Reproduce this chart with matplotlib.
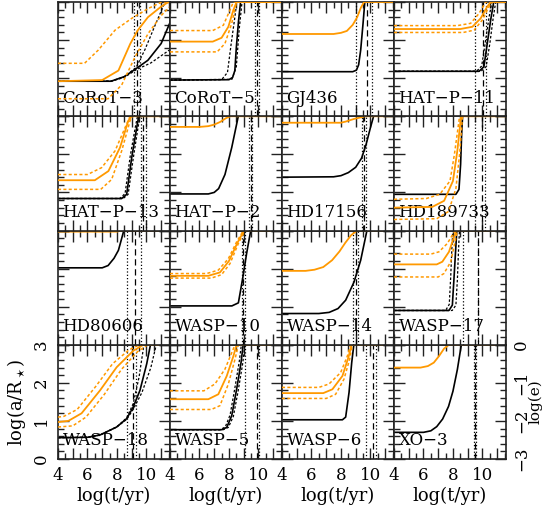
import matplotlib
matplotlib.use('Agg')
import matplotlib.pyplot as plt
from matplotlib.ticker import MultipleLocator, FuncFormatter

plt.rcParams['font.family'] = ['DejaVu Serif']
plt.rcParams['mathtext.fontset'] = 'dejavuserif'

orange = '#ff9900'

# each panel: ages (lower, best, upper) in log(t/yr),
# a-curves: first solid, rest dotted, log(a/R*) ; e-curves: first solid, rest dotted, log(e)
corot3_age = [9.16, 9.36, 9.56]
corot3_a = [([4, 7.6, 8.5, 9.3, 10.1, 11.0, 11.6], [0.92, 0.92, 1.04, 1.25, 1.47, 1.91, 2.46]),
            ([4, 7.6, 8.5, 9.3, 9.9, 10.6, 11.1, 11.4], [0.92, 0.92, 1.04, 1.28, 1.75, 2.4, 2.85, 3.1]),
            ([4, 7.6, 8.5, 9.3, 10.3, 11.6], [0.92, 0.92, 1.02, 1.22, 1.4, 1.75])]
corot3_e = [([4, 7.0, 8.1, 8.9, 9.4, 10.1, 11.0, 11.5, 11.6], [-2.08, -2.05, -1.8, -1.1, -0.75, -0.4, -0.12, 0, 0]),
            ([4, 5.8, 6.74, 7.87, 9.0, 10.13, 11.04, 11.6], [-1.61, -1.61, -1.26, -0.74, -0.43, -0.17, 0, 0]),
            ([4, 7.4, 8.32, 9.23, 10.13, 11.04, 11.6], [-2.54, -2.54, -2.18, -1.44, -0.82, -0.34, -0.12])]

corot5_age = [9.77, 9.9, 10.04]
corot5_a = [([4, 8.0, 8.25, 8.4, 8.5, 8.65, 8.8], [0.95, 0.96, 1.02, 1.2, 1.8, 2.5, 3.05]),
            ([4, 7.5, 7.9, 8.15, 8.4, 8.55], [0.95, 0.96, 1.15, 1.9, 2.6, 3.05]),
            ([4, 8.2, 8.5, 8.7, 8.9], [0.95, 0.97, 1.3, 2.3, 3.05])]
corot5_e = [([4, 6.9, 7.5, 7.96, 8.3, 8.52, 11.6], [-1.04, -1.04, -0.94, -0.65, -0.21, 0, 0]),
            ([4, 6.9, 7.62, 8.07, 8.3, 11.6], [-0.75, -0.75, -0.61, -0.21, 0, 0]),
            ([4, 7.2, 7.73, 8.19, 8.52, 11.6], [-1.31, -1.31, -1.09, -0.56, 0, 0])]

gj436_age = [9.04, 9.78, 10.12]
gj436_a = [([4, 8.8, 9.05, 9.2, 9.34, 9.5, 9.63], [1.17, 1.17, 1.21, 1.35, 1.74, 2.44, 3.05])]
gj436_e = [([4, 7.5, 8.0, 8.4, 8.8, 9.1, 9.35, 9.57, 11.6], [-0.84, -0.84, -0.81, -0.76, -0.6, -0.4, -0.15, 0, 0])]

hatp11_age = [9.48, 10.05, 10.25]
hatp11_a = [([4, 9.77, 10.1, 10.33, 10.56, 10.79], [1.18, 1.18, 1.3, 1.91, 2.53, 3.05]),
            ([4, 9.6, 9.95, 10.2, 10.45, 10.67], [1.18, 1.18, 1.32, 1.95, 2.6, 3.05]),
            ([4, 9.9, 10.25, 10.5, 10.72, 10.92], [1.18, 1.18, 1.3, 1.9, 2.55, 3.05])]
hatp11_e = [([4, 8.5, 9.32, 9.88, 10.33, 10.56, 11.6], [-0.71, -0.71, -0.65, -0.43, -0.12, 0, 0]),
            ([4, 8.3, 9.2, 9.77, 10.22, 11.6], [-0.62, -0.62, -0.56, -0.3, 0, 0]),
            ([4, 8.7, 9.43, 10.0, 10.45, 10.67, 11.6], [-0.8, -0.8, -0.74, -0.47, -0.12, 0, 0])]

hatp13_age = [9.63, 9.79, 9.95]
hatp13_a = [([4, 8.32, 8.66, 9.0, 9.34, 9.5], [0.84, 0.84, 0.95, 1.91, 2.7, 3.05]),
            ([4, 8.2, 8.55, 8.9, 9.25, 9.42], [0.84, 0.84, 0.97, 1.95, 2.72, 3.05]),
            ([4, 8.42, 8.76, 9.1, 9.42, 9.58], [0.84, 0.84, 0.95, 1.88, 2.68, 3.05])]
hatp13_e = [([4, 6.5, 7.42, 8.21, 8.77, 9.0, 11.6], [-1.68, -1.68, -1.44, -0.82, -0.12, 0, 0]),
            ([4, 6.0, 6.96, 7.87, 8.55, 8.89, 11.6], [-1.53, -1.53, -1.35, -0.91, -0.3, 0, 0]),
            ([4, 6.9, 7.64, 8.32, 8.89, 9.05, 11.6], [-1.92, -1.92, -1.66, -0.91, -0.12, 0, 0])]

hatp2_age = [9.38, 9.47, 9.56]
hatp2_a = [([4, 6.6, 7.0, 7.3, 7.73, 8.19, 8.52, 8.66], [0.96, 0.96, 1.0, 1.1, 1.47, 2.18, 2.79, 3.05])]
hatp2_e = [([4, 6.0, 6.6, 7.0, 7.4, 7.8, 8.1, 11.6], [-0.28, -0.28, -0.26, -0.22, -0.15, -0.05, 0, 0])]

hd17156_age = [9.41, 9.59, 9.72]
hd17156_a = [([4, 7.5, 8.0, 8.5, 9.0, 9.4, 9.7, 10.0, 10.25], [1.4, 1.41, 1.44, 1.52, 1.66, 1.9, 2.25, 2.7, 3.05])]
hd17156_e = [([4, 8.0, 8.32, 8.89, 9.45, 9.63, 11.6], [-0.17, -0.17, -0.14, -0.07, -0.02, 0, 0])]

hd189733_age = [9.5, 10.0, 10.2]
hd189733_a = [([4, 8.2, 8.41, 8.52, 8.59, 8.66], [0.95, 0.95, 1.08, 1.74, 2.53, 3.05])]
hd189733_e = [([4, 6.6, 7.4, 8.0, 8.3, 8.55, 11.6], [-2.4, -2.38, -2.22, -1.7, -0.9, 0, 0]),
              ([4, 6.2, 7.1, 7.8, 8.1, 8.45, 11.6], [-2.18, -2.16, -2.05, -1.7, -1.0, 0, 0]),
              ([4, 6.9, 7.7, 8.2, 8.45, 8.65, 11.6], [-2.71, -2.69, -2.5, -1.9, -1.0, 0, 0])]

hd80606_age = [8.66, 9.22, 9.63]
hd80606_a = [([4, 7.0, 7.4, 7.8, 8.1, 8.32, 8.5], [2.02, 2.02, 2.08, 2.27, 2.48, 2.79, 3.05])]
hd80606_e = [([4, 8.0, 8.3, 11.6], [-0.03, -0.03, 0, 0])]

wasp10_age = [8.86, 8.97, 9.09]
wasp10_a = [([4, 8.2, 8.64, 8.93, 9.2, 9.5], [1.02, 1.02, 1.1, 1.74, 2.4, 3.05])]
wasp10_e = [([4, 6.6, 7.39, 8.0, 8.58, 9.03, 11.6], [-1.19, -1.19, -1.1, -0.8, -0.32, 0, 0]),
            ([4, 6.49, 7.28, 7.96, 8.52, 8.98, 11.6], [-1.13, -1.13, -1.04, -0.74, -0.3, 0, 0]),
            ([4, 6.8, 7.5, 8.07, 8.64, 9.09, 11.6], [-1.25, -1.25, -1.16, -0.87, -0.34, 0, 0])]

wasp14_age = [8.82, 9.0, 9.14]
wasp14_a = [([4, 6.5, 7.2, 7.8, 8.32, 8.89, 9.34, 9.79], [0.82, 0.82, 0.85, 0.95, 1.17, 1.65, 2.22, 3.05])]
wasp14_e = [([4, 5.6, 6.2, 6.8, 7.4, 7.9, 8.3, 8.7, 9.1, 11.6],
             [-1.06, -1.06, -1.03, -0.96, -0.78, -0.55, -0.32, -0.12, 0, 0])]

wasp17_age = [8.7, 9.7, 9.72]
wasp17_a = [([4, 7.73, 7.96, 8.07, 8.19, 8.27], [0.9, 0.9, 1.04, 1.74, 2.53, 3.05]),
            ([4, 7.5, 7.75, 7.85, 7.93, 8.0], [0.9, 0.9, 1.06, 1.8, 2.55, 3.05]),
            ([4, 7.95, 8.2, 8.3, 8.38, 8.45], [0.9, 0.9, 1.04, 1.7, 2.5, 3.05])]
wasp17_e = [([4, 6.9, 7.28, 7.73, 8.07, 8.23, 11.6], [-0.89, -0.89, -0.82, -0.56, -0.17, 0, 0]),
            ([4, 6.5, 7.05, 7.62, 7.96, 8.14, 11.6], [-0.62, -0.62, -0.56, -0.34, -0.12, 0, 0]),
            ([4, 7.0, 7.39, 7.85, 8.14, 8.3, 11.6], [-1.22, -1.22, -1.13, -0.82, -0.3, 0, 0])]

wasp18_age = [8.7, 9.1, 9.3]
wasp18_a = [([4, 6.0, 6.85, 7.98, 8.66, 9.1, 9.56, 10.02, 10.3], [0.56, 0.57, 0.63, 0.84, 1.06, 1.36, 1.8, 2.5, 3.05]),
            ([4, 6.0, 6.85, 7.98, 8.66, 9.1, 9.5, 9.85], [0.56, 0.57, 0.63, 0.84, 1.08, 1.45, 2.15, 3.05]),
            ([4, 6.0, 6.85, 7.98, 8.66, 9.1, 9.7, 10.3, 10.7], [0.56, 0.57, 0.63, 0.84, 1.04, 1.3, 1.75, 2.4, 3.05])]
wasp18_e = [([4, 4.7, 5.6, 6.85, 7.98, 9.1, 9.8, 11.6], [-2.03, -2.0, -1.8, -1.2, -0.59, -0.16, 0, 0]),
            ([4, 4.4, 5.3, 6.55, 7.7, 8.8, 9.5, 11.6], [-1.9, -1.88, -1.7, -1.1, -0.5, -0.14, 0, 0]),
            ([4, 5.0, 5.9, 7.15, 8.3, 9.4, 10.1, 11.6], [-2.16, -2.13, -1.9, -1.3, -0.65, -0.18, 0, 0])]

wasp5_age = [9.07, 9.9, 10.05]
wasp5_a = [([4, 7.51, 7.85, 8.19, 8.52, 8.82, 8.98], [0.77, 0.77, 0.83, 1.14, 1.83, 2.53, 3.05]),
           ([4, 7.4, 7.75, 8.08, 8.4, 8.7, 8.86], [0.77, 0.77, 0.84, 1.16, 1.86, 2.56, 3.05]),
           ([4, 7.62, 7.96, 8.3, 8.63, 8.93, 9.1], [0.77, 0.77, 0.83, 1.12, 1.8, 2.5, 3.05])]
wasp5_e = [([4, 6.6, 7.28, 7.85, 8.3, 8.52, 11.6], [-1.43, -1.43, -1.3, -0.82, -0.3, 0, 0]),
           ([4, 6.3, 7.05, 7.73, 8.19, 8.41, 11.6], [-1.21, -1.21, -1.03, -0.64, -0.21, 0, 0]),
           ([4, 6.8, 7.39, 7.96, 8.41, 8.64, 11.6], [-1.7, -1.7, -1.6, -1.03, -0.38, 0, 0])]

wasp6_age = [9.7, 10.2, 10.38]
wasp6_a = [([4, 8.1, 8.32, 8.55, 8.73, 8.89], [1.03, 1.03, 1.1, 1.75, 2.53, 3.05])]
wasp6_e = [([4, 6.8, 7.42, 8.1, 8.5, 8.73, 11.6], [-1.27, -1.27, -1.17, -0.82, -0.34, 0, 0]),
           ([4, 6.5, 7.19, 7.98, 8.43, 8.66, 11.6], [-1.12, -1.12, -1.03, -0.73, -0.3, 0, 0]),
           ([4, 7.0, 7.64, 8.21, 8.59, 8.77, 11.6], [-1.41, -1.41, -1.3, -0.9, -0.38, 0, 0])]

xo3_age = [9.45, 9.5, 9.55]
xo3_a = [([4, 6.0, 6.5, 6.9, 7.3, 7.7, 8.0, 8.3, 8.59], [0.7, 0.7, 0.74, 0.85, 1.05, 1.38, 1.78, 2.35, 3.05])]
xo3_e = [([4, 5.8, 6.3, 6.7, 7.05, 7.4, 7.73, 11.6], [-0.6, -0.6, -0.56, -0.47, -0.3, -0.1, 0, 0])]

panels = [
    ('CoRoT−3', corot3_age, corot3_a, corot3_e),
    ('CoRoT−5', corot5_age, corot5_a, corot5_e),
    ('GJ436', gj436_age, gj436_a, gj436_e),
    ('HAT−P−11', hatp11_age, hatp11_a, hatp11_e),
    ('HAT−P−13', hatp13_age, hatp13_a, hatp13_e),
    ('HAT−P−2', hatp2_age, hatp2_a, hatp2_e),
    ('HD17156', hd17156_age, hd17156_a, hd17156_e),
    ('HD189733', hd189733_age, hd189733_a, hd189733_e),
    ('HD80606', hd80606_age, hd80606_a, hd80606_e),
    ('WASP−10', wasp10_age, wasp10_a, wasp10_e),
    ('WASP−14', wasp14_age, wasp14_a, wasp14_e),
    ('WASP−17', wasp17_age, wasp17_a, wasp17_e),
    ('WASP−18', wasp18_age, wasp18_a, wasp18_e),
    ('WASP−5', wasp5_age, wasp5_a, wasp5_e),
    ('WASP−6', wasp6_age, wasp6_a, wasp6_e),
    ('XO−3', xo3_age, xo3_a, xo3_e),
]

fig = plt.figure(figsize=(5.44, 5.14), dpi=100)
left, top = 58 / 544, 1 - 2 / 514
w, h = 112 / 544, 114.25 / 514

even_fmt = FuncFormatter(lambda v, p: '%d' % round(v) if round(v) % 2 == 0 else '')

for k, (name, age, a_curves, e_curves) in enumerate(panels):
    row, col = divmod(k, 4)
    ax = fig.add_axes([left + col * w, top - (row + 1) * h, w, h])
    tw = ax.twinx()
    ax.set_zorder(10 - 2 * row)
    tw.set_zorder(10 - 2 * row)

    ax.axvline(age[0], color='black', linestyle=':', linewidth=0.9)
    ax.axvline(age[1], color='black', linestyle=(0, (5, 3)), linewidth=0.9)
    ax.axvline(age[2], color='black', linestyle=':', linewidth=0.9)

    for i, (t, a) in enumerate(a_curves):
        if i == 0:
            ax.plot(t, a, color='black', linewidth=1.2)
        else:
            ax.plot(t, a, color='black', linestyle=(0, (2, 1.5)), linewidth=0.9)
    for i, (t, e) in enumerate(e_curves):
        if i == 0:
            tw.plot(t, e, color=orange, linewidth=1.3)
        else:
            tw.plot(t, e, color=orange, linestyle=(0, (2, 1.5)), linewidth=1.1)

    ax.set_xlim(4, 11.6)
    ax.set_ylim(0, 3)
    tw.set_ylim(-3, 0)

    ax.xaxis.set_major_locator(MultipleLocator(1))
    ax.xaxis.set_minor_locator(MultipleLocator(0.5))
    ax.yaxis.set_major_locator(MultipleLocator(1))
    ax.yaxis.set_minor_locator(MultipleLocator(0.2))
    ax.tick_params(which='both', direction='in', top=True, right=True, width=1, color='#222222')
    ax.tick_params(which='major', length=8)
    ax.tick_params(which='minor', length=4)
    ax.xaxis.set_major_formatter(even_fmt)
    for sp in ax.spines.values():
        sp.set_linewidth(1.2)
        sp.set_color('#222222')
    for sp in tw.spines.values():
        sp.set_visible(False)

    tw.set_yticks([-3, -2, -1, 0])
    tw.tick_params(axis='y', length=0, labelright=(k == 15), labelsize=12,
                   labelrotation=90, pad=5)

    if row == 3:
        ax.tick_params(axis='x', labelsize=12, pad=6)
        ax.set_xlabel('log(t/yr)', fontsize=13, labelpad=2)
    else:
        ax.tick_params(axis='x', labelbottom=False)
    if k == 12:
        ax.set_yticks([0, 1, 2, 3])
        ax.tick_params(axis='y', labelsize=12, labelrotation=90, pad=6)
        for lab in ax.get_yticklabels():
            lab.set_va('center')
        ax.set_ylabel('log(a/R$_\\star$)', fontsize=13)
        ax.yaxis.set_label_coords(-0.27, 0.5)
    else:
        ax.tick_params(axis='y', labelleft=False)
    if k == 15:
        for lab in tw.get_yticklabels():
            lab.set_va('center')
        tw.set_ylabel('log(e)', fontsize=11)
        tw.yaxis.set_label_coords(1.195, 0.5)

    ax.text(0.04, 0.12, name, transform=ax.transAxes, fontsize=12, zorder=5)

fig.savefig('out.png', dpi=100)
